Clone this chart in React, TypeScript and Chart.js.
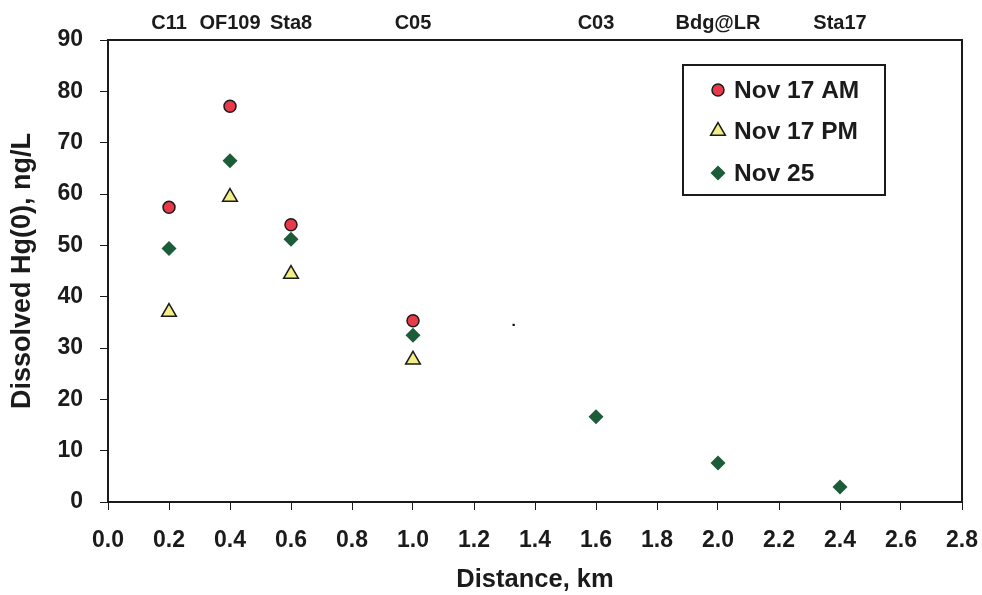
import React, { useEffect, useRef } from "react";
import { Chart, registerables } from "chart.js";

Chart.register(...registerables);

// ---- data ----
const amX = [0.2, 0.4, 0.6, 1.0];
const amY = [57.4, 77.1, 54.0, 35.3];
const pmX = [0.2, 0.4, 0.6, 1.0];
const pmY = [37.0, 59.4, 44.4, 27.7];
const nov25X = [0.2, 0.4, 0.6, 1.0, 1.6, 2.0, 2.4];
const nov25Y = [49.4, 66.5, 51.2, 32.5, 16.6, 7.6, 2.9];
const strayX = [1.33];
const strayY = [34.5];
const stationPos = [0.2, 0.4, 0.6, 1.0, 1.6, 2.0, 2.4];
const stationNames = ["C11", "OF109", "Sta8", "C05", "C03", "Bdg@LR", "Sta17"];
const seriesNames = ["Nov 17 AM", "Nov 17 PM", "Nov 25"];

const RED = "#e83a4b";
const YELLOW = "#f3ef86";
const GREEN = "#1d5c39";
const INK = "#1b1b1b";
const FONT = "'Liberation Sans', Arial, sans-serif";

const pts = (xs: number[], ys: number[]) => xs.map((x, i) => ({ x, y: ys[i] }));

function drawMarker(ctx: CanvasRenderingContext2D, kind: number, x: number, y: number) {
  ctx.save();
  ctx.beginPath();
  if (kind === 0) {
    ctx.arc(x, y, 6, 0, Math.PI * 2);
    ctx.fillStyle = RED;
    ctx.strokeStyle = INK;
    ctx.lineWidth = 1.5;
    ctx.fill();
    ctx.stroke();
  } else if (kind === 1) {
    const r = 8.5;
    for (let k = 0; k < 3; k++) {
      const a = -Math.PI / 2 + (k * 2 * Math.PI) / 3;
      const px = x + Math.cos(a) * r;
      const py = y + Math.sin(a) * r;
      if (k === 0) ctx.moveTo(px, py);
      else ctx.lineTo(px, py);
    }
    ctx.closePath();
    ctx.fillStyle = YELLOW;
    ctx.strokeStyle = INK;
    ctx.lineWidth = 1.5;
    ctx.fill();
    ctx.stroke();
  } else {
    const r = 7.5;
    ctx.moveTo(x, y - r);
    ctx.lineTo(x + r, y);
    ctx.lineTo(x, y + r);
    ctx.lineTo(x - r, y);
    ctx.closePath();
    ctx.fillStyle = GREEN;
    ctx.fill();
  }
  ctx.restore();
}

const framePlugin = {
  id: "frameAndLegend",
  afterDraw(chart: any) {
    const { ctx, chartArea } = chart;
    ctx.save();
    ctx.strokeStyle = INK;
    ctx.lineWidth = 2;
    ctx.strokeRect(chartArea.left, chartArea.top, chartArea.right - chartArea.left, chartArea.bottom - chartArea.top);
    // legend box
    const bx = chartArea.right - 279;
    const by = chartArea.top + 25;
    const bw = 202;
    const bh = 130;
    ctx.fillStyle = "#ffffff";
    ctx.fillRect(bx, by, bw, bh);
    ctx.strokeRect(bx, by, bw, bh);
    ctx.font = `bold 24.5px ${FONT}`;
    ctx.fillStyle = INK;
    ctx.textBaseline = "middle";
    ctx.textAlign = "left";
    const rows = [25, 66, 108];
    seriesNames.forEach((name, i) => {
      drawMarker(ctx, i, bx + 35, by + rows[i]);
      ctx.fillText(name, bx + 51, by + rows[i] + 1);
    });
    ctx.restore();
  },
};

export default function App() {
  const ref = useRef<HTMLCanvasElement | null>(null);
  useEffect(() => {
    document.body.style.margin = "0";
    if (!ref.current) return;
    const chart = new Chart(ref.current, {
      type: "scatter",
      data: {
        datasets: [
          {
            label: seriesNames[0],
            data: pts(amX, amY),
            pointStyle: "circle",
            pointRadius: 6,
            backgroundColor: RED,
            borderColor: INK,
            borderWidth: 1.5,
          },
          {
            label: seriesNames[1],
            data: pts(pmX, pmY),
            pointStyle: "triangle",
            pointRadius: 8.5,
            backgroundColor: YELLOW,
            borderColor: INK,
            borderWidth: 1.5,
          },
          {
            label: seriesNames[2],
            data: pts(nov25X, nov25Y),
            pointStyle: "rectRot",
            pointRadius: 7.5,
            backgroundColor: GREEN,
            borderColor: GREEN,
            borderWidth: 0,
          },
          {
            label: "",
            data: pts(strayX, strayY),
            pointStyle: "rect",
            pointRadius: 1.6,
            backgroundColor: "#111",
            borderColor: "#111",
            borderWidth: 0,
          },
        ],
      },
      options: {
        animation: false,
        responsive: false,
        maintainAspectRatio: false,
        layout: { padding: { left: 0, right: 20, top: 0, bottom: 0 } },
        plugins: { legend: { display: false }, tooltip: { enabled: false } },
        scales: {
          x: {
            type: "linear",
            position: "bottom",
            min: 0,
            max: 2.8,
            afterFit: (s: any) => {
              s.height = 93;
              s.paddingLeft = 0;
              s.paddingRight = 0;
            },
            ticks: {
              stepSize: 0.2,
              autoSkip: false,
              maxRotation: 0,
              padding: 17,
              color: INK,
              font: { family: FONT, size: 23, weight: "bold" },
              callback: (v: any) => Number(v).toFixed(1),
            },
            grid: { drawOnChartArea: false, drawTicks: true, tickLength: 8, color: INK, lineWidth: 1 },
            border: { display: true, color: INK, width: 2 },
            title: {
              display: true,
              text: "Distance, km",
              color: INK,
              font: { family: FONT, size: 25.5, weight: "bold" },
              padding: { top: 0, bottom: 0 },
            },
          },
          x2: {
            type: "linear",
            position: "top",
            min: 0,
            max: 2.8,
            afterFit: (s: any) => {
              s.height = 40;
              s.paddingLeft = 0;
              s.paddingRight = 0;
            },
            afterBuildTicks: (s: any) => {
              s.ticks = stationPos.map((v) => ({ value: v }));
            },
            ticks: {
              autoSkip: false,
              maxRotation: 0,
              padding: 5,
              color: INK,
              font: { family: FONT, size: 20, weight: "bold" },
              callback: (_v: any, i: number) => stationNames[i],
            },
            grid: { display: false, drawTicks: false },
            border: { display: true, color: INK, width: 2 },
          },
          y: {
            type: "linear",
            min: 0,
            max: 90,
            afterFit: (s: any) => {
              s.width = 108;
            },
            ticks: {
              stepSize: 10,
              padding: 17,
              color: INK,
              font: { family: FONT, size: 23, weight: "bold" },
            },
            grid: { drawOnChartArea: false, drawTicks: true, tickLength: 8, color: INK, lineWidth: 1 },
            border: { display: true, color: INK, width: 2 },
            title: {
              display: true,
              text: "Dissolved Hg(0), ng/L",
              color: INK,
              font: { family: FONT, size: 27, weight: "bold" },
              padding: { top: 6, bottom: 0 },
            },
          },
        },
      },
      plugins: [framePlugin],
    } as any);
    return () => chart.destroy();
  }, []);
  return (
    <div style={{ position: "fixed", left: 0, top: 0, width: 982, height: 595, background: "#fff" }}>
      <canvas ref={ref} width={982} height={595} style={{ display: "block" }} />
    </div>
  );
}
